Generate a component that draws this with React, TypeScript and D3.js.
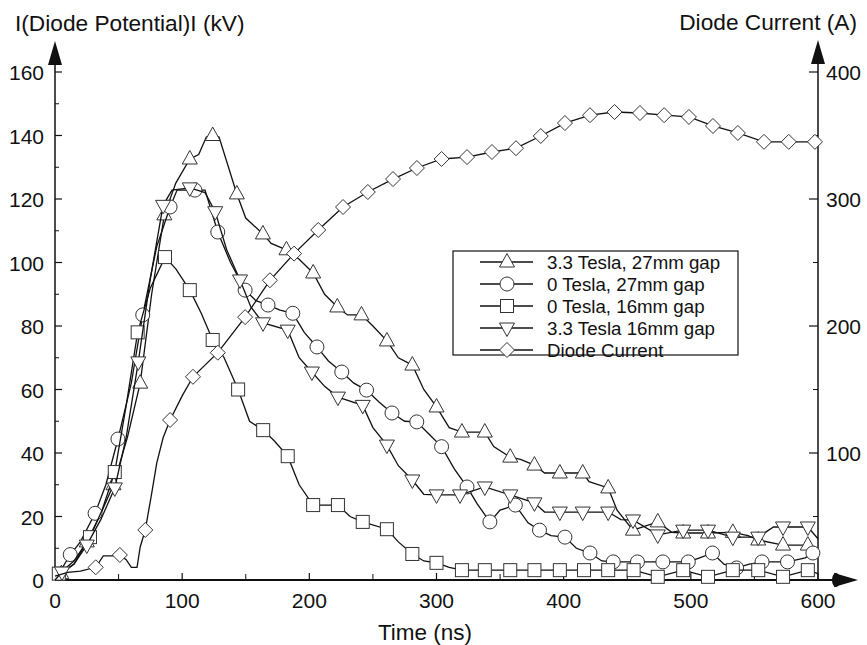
import React from "react";
import * as d3 from "d3";

// ---- data (t in ns, value in kV or A, third item = 1 where a marker is drawn) ----
const timeTicks = [0, 100, 200, 300, 400, 500, 600];
const potentialTicks = [0, 20, 40, 60, 80, 100, 120, 140, 160];
const currentTicks = [100, 200, 300, 400];

const seriesNames = [
  "3.3 Tesla, 27mm gap",
  "0 Tesla, 27mm gap",
  "0 Tesla, 16mm gap",
  "3.3 Tesla 16mm gap",
  "Diode Current",
];

const tesla33gap27: number[][] = [
  [0, 0, 0], [5, 2, 1], [15, 5, 0], [25, 12, 1], [35, 20, 0], [46, 30, 1], [57, 45, 0], [67, 62, 1],
  [76, 90, 0], [86, 115, 1], [95, 125, 0], [106, 132.6, 1], [113, 134, 0], [119, 139.5, 0], [124, 140, 1],
  [129, 139.5, 0], [143, 121.6, 1], [150, 114, 0], [163.5, 109, 1], [170, 106, 0], [182, 104, 1],
  [192, 101, 0], [203, 96.7, 1], [212, 90, 0], [222, 86, 1], [230, 83.5, 0], [241, 83.5, 1], [250, 80, 0],
  [261, 75.3, 1], [270, 70, 0], [281, 67.7, 1], [290, 60, 0], [300, 54.5, 1], [310, 48, 0], [320, 46.6, 1],
  [338, 46.6, 1], [345, 42, 0], [358, 38.7, 1], [366, 38, 0], [377, 36.2, 1], [385, 33.7, 0], [397, 33.7, 1],
  [415, 33.7, 1], [420, 31, 0], [435, 29, 1], [442, 22, 0], [454.5, 15.7, 1], [474, 18.3, 1], [485, 15, 0],
  [494, 14.8, 1], [513.5, 14.8, 1], [533, 15, 1], [545, 14, 0], [553, 12.6, 1], [572.5, 11, 1], [592, 11, 1],
  [600, 10, 0],
];

const tesla0gap27: number[][] = [
  [0, 0, 0], [12, 8, 1], [20, 12, 0], [31.5, 21, 1], [40, 30, 0], [49.5, 44.4, 1], [60, 62, 0], [69, 83.5, 1],
  [80, 105, 0], [90.5, 117.5, 1], [96, 122.8, 0], [110, 122.8, 1], [118, 122.8, 0], [128, 109.6, 1],
  [138, 100, 0], [149.5, 91.3, 1], [158, 88, 0], [167.5, 86.6, 1], [177, 85, 0], [187, 84, 1], [196, 78, 0],
  [206, 73.4, 1], [215, 69, 0], [225.5, 65.5, 1], [235, 62, 0], [245, 59.8, 1], [255, 56, 0], [265, 52.6, 1],
  [275, 50, 0], [284.5, 49.8, 1], [294, 46, 0], [304, 42, 1], [314, 35, 0], [324, 29.3, 1], [332, 24, 0],
  [342, 18.3, 1], [350, 22, 0], [362, 23.6, 1], [372, 18, 0], [381, 15.7, 1], [390, 14, 0], [401, 13.5, 1],
  [410, 10, 0], [420.7, 8.5, 1], [430, 6, 0], [439, 5.7, 1], [458, 5.7, 1], [478, 5.7, 1], [498, 5.7, 1],
  [507, 7, 0], [517, 8.5, 1], [526, 5, 0], [536, 3.8, 1], [546, 5, 0], [556, 5.7, 1], [576, 5.7, 1],
  [590, 7, 0], [596, 8.5, 1],
];

const tesla0gap16: number[][] = [
  [0, 0, 0], [3, 2, 1], [15, 6, 0], [27.5, 13.5, 1], [37, 22, 0], [47, 34, 1], [56, 55, 0], [65, 78, 1],
  [75, 92, 0], [86.5, 101.7, 1], [95, 98, 0], [106, 91.3, 1], [115, 84, 0], [124, 75.6, 1], [133, 70, 0],
  [144, 60, 1], [153, 50, 0], [163.7, 47.2, 1], [172, 44, 0], [183, 39, 1], [192, 30, 0], [203, 23.6, 1],
  [222.5, 23.6, 1], [232, 20, 0], [242, 18.3, 1], [261, 16, 1], [270, 12, 0], [281, 8.2, 1], [290, 6, 0],
  [300, 5.4, 1], [310, 4, 0], [320, 3.1, 1], [338, 3.1, 1], [358, 3.1, 1], [377, 3.1, 1], [397, 3.1, 1],
  [416, 3.1, 1], [435, 3.1, 1], [455, 3.1, 1], [474, 1, 1], [494, 3.1, 1], [513.5, 1, 1], [533, 3.1, 1],
  [553, 3.1, 1], [572.5, 1, 1], [592, 3.1, 1], [600, 2, 0],
];

const tesla33gap16: number[][] = [
  [0, 0, 0], [5.5, 2.5, 1], [15, 5, 0], [25, 11, 1], [36, 19, 0], [47, 29, 1], [56, 45, 0], [65.5, 68.7, 1],
  [75, 95, 0], [85, 118, 1], [92, 122.8, 0], [106, 123.5, 1], [118, 122, 0], [126, 116, 1], [135, 104, 0],
  [145.5, 94.5, 1], [154, 86, 0], [163.6, 81, 1], [183, 78.7, 1], [192, 70, 0], [202, 65.5, 1], [212, 61, 0],
  [222.5, 57.6, 1], [242, 55, 1], [250, 48, 0], [261, 42.5, 1], [270, 36, 0], [281, 31.5, 1], [290, 27, 0],
  [300, 26.8, 1], [318.5, 26.8, 1], [338, 29.3, 1], [358, 26.8, 1], [377, 24.3, 1], [385, 21.4, 0],
  [397, 21.4, 1], [415, 21.4, 1], [435, 21.4, 1], [445, 19, 0], [454.5, 18.9, 1], [474, 14.2, 1],
  [494, 15.7, 1], [513.5, 15.7, 1], [533, 13.5, 1], [553, 13.5, 1], [565, 16.7, 0], [572.5, 16.7, 1],
  [592, 16.7, 1], [600, 13, 0],
];

const diodeCurrent: number[][] = [
  [0, 3, 0], [10, 6, 0], [20, 7, 0], [32, 10, 1], [38, 19, 0], [46, 19, 0], [51, 19.7, 1], [56, 16, 0],
  [60, 10, 0], [64.5, 10, 0], [67, 26, 0], [71, 39.4, 1], [76, 68, 0], [80, 92, 0], [85, 112, 0],
  [90.5, 126, 1], [100, 145, 0], [108.5, 160, 1], [128, 179, 1], [149.5, 207, 1], [169, 236, 1],
  [188, 257, 1], [207, 275.6, 1], [226.5, 293.7, 1], [246, 305.5, 1], [265.8, 315.7, 1], [284.6, 324.4, 1],
  [304, 331.5, 1], [324, 333, 1], [343.6, 337, 1], [362.5, 340, 1], [382, 349.6, 1], [401, 359.8, 1],
  [420.7, 366, 1], [440, 368.5, 1], [460, 367.7, 1], [479, 366, 1], [498.5, 364.6, 1], [517.4, 357.5, 1],
  [537, 352, 1], [557.5, 345, 1], [577, 345, 1], [597.6, 345, 1],
];

// ---- layout ----
const W = 867;
const H = 645;
const X0 = 55;
const X1 = 818;
const Y0 = 580;
const Y1 = 72;
const FONT = "'Liberation Sans', Arial, Helvetica, sans-serif";
const INK = "#111";

const x = d3.scaleLinear().domain([0, 600]).range([X0, X1]);
const yL = d3.scaleLinear().domain([0, 160]).range([Y0, Y1]);
const yR = d3.scaleLinear().domain([0, 400]).range([Y0, Y1]);

type Shape = "up" | "circle" | "square" | "down" | "diamond";

function Marker({ cx, cy, shape }: { cx: number; cy: number; shape: Shape }) {
  const common = { fill: "#fff", stroke: "#333", strokeWidth: 1 };
  if (shape === "circle") return <circle cx={cx} cy={cy} r={7} {...common} />;
  if (shape === "square") return <rect x={cx - 6.5} y={cy - 6.5} width={13} height={13} {...common} />;
  if (shape === "diamond")
    return <path d={`M${cx},${cy - 7.5}L${cx + 7.5},${cy}L${cx},${cy + 7.5}L${cx - 7.5},${cy}Z`} {...common} />;
  if (shape === "up")
    return <path d={`M${cx},${cy - 8.5}L${cx + 7.5},${cy + 5}L${cx - 7.5},${cy + 5}Z`} {...common} />;
  return <path d={`M${cx},${cy + 8.5}L${cx + 7.5},${cy - 5}L${cx - 7.5},${cy - 5}Z`} {...common} />;
}

const seriesDefs: { data: number[][]; shape: Shape; right: boolean }[] = [
  { data: tesla33gap27, shape: "up", right: false },
  { data: tesla0gap27, shape: "circle", right: false },
  { data: tesla0gap16, shape: "square", right: false },
  { data: tesla33gap16, shape: "down", right: false },
  { data: diodeCurrent, shape: "diamond", right: true },
];

export default function App() {
  const leftMinor = d3.range(10, 160, 20);
  const rightMinor = d3.range(50, 400, 100);
  const xMinor = d3.range(50, 600, 100);

  return (
    <svg
      width={W}
      height={H}
      viewBox={`0 0 ${W} ${H}`}
      style={{ position: "absolute", left: 0, top: 0, background: "#fff" }}
      fontFamily={FONT}
    >
      <rect x={0} y={0} width={W} height={H} fill="#fff" />

      {/* axis titles */}
      <text x={15} y={31} fontSize={22.7} fill={INK}>
        I(Diode Potential)I (kV)
      </text>
      <text x={857} y={30} fontSize={22.7} fill={INK} textAnchor="end">
        Diode Current (A)
      </text>
      <text x={425} y={640} fontSize={22.5} fill={INK} textAnchor="middle">
        Time (ns)
      </text>

      {/* left axis */}
      <line x1={X0} y1={Y0} x2={X0} y2={60} stroke={INK} strokeWidth={1.5} />
      <path d={`M${X0},41L${X0 + 7},65L${X0 - 7},65Z`} fill={INK} />
      {potentialTicks.map((t) => (
        <g key={"pl" + t}>
          <line x1={X0} x2={X0 + 7} y1={yL(t)} y2={yL(t)} stroke={INK} strokeWidth={1.2} />
          <text x={44} y={yL(t) + 8} fontSize={21} fill={INK} textAnchor="end">
            {t}
          </text>
        </g>
      ))}
      {leftMinor.map((t) => (
        <line key={"plm" + t} x1={X0} x2={X0 + 4} y1={yL(t)} y2={yL(t)} stroke={INK} strokeWidth={1} />
      ))}

      {/* right axis */}
      <line x1={X1} y1={Y0} x2={X1} y2={60} stroke={INK} strokeWidth={1.5} />
      <path d={`M${X1},40L${X1 + 7},64L${X1 - 7},64Z`} fill={INK} />
      {currentTicks.map((t) => (
        <g key={"cr" + t}>
          <line x1={X1 - 9} x2={X1} y1={yR(t)} y2={yR(t)} stroke={INK} strokeWidth={1.2} />
          <text x={826} y={yR(t) + 8} fontSize={21} fill={INK}>
            {t}
          </text>
        </g>
      ))}
      {rightMinor.map((t) => (
        <line key={"crm" + t} x1={X1 - 5} x2={X1} y1={yR(t)} y2={yR(t)} stroke={INK} strokeWidth={1} />
      ))}

      {/* x axis */}
      <line x1={X0} y1={Y0} x2={840} y2={Y0} stroke={INK} strokeWidth={2} />
      <path d={`M858,${Y0}L834,${Y0 - 7}L834,${Y0 + 7}Z`} fill={INK} />
      <ellipse cx={836} cy={Y0} rx={4} ry={7} fill={INK} />
      {timeTicks.map((t) => (
        <g key={"tx" + t}>
          <line x1={x(t)} x2={x(t)} y1={Y0} y2={Y0 - 7} stroke={INK} strokeWidth={1.2} />
          <text x={x(t)} y={608} fontSize={21} fill={INK} textAnchor="middle">
            {t}
          </text>
        </g>
      ))}
      {xMinor.map((t) => (
        <line key={"txm" + t} x1={x(t)} x2={x(t)} y1={Y0} y2={Y0 - 6} stroke={INK} strokeWidth={1} />
      ))}

      {/* series */}
      {seriesDefs.map((s, i) => {
        const ys = s.right ? yR : yL;
        const line = d3
          .line<number[]>()
          .x((d) => x(d[0]))
          .y((d) => ys(d[1]))
          .curve(d3.curveLinear);
        return (
          <g key={"s" + i}>
            <path d={line(s.data) || ""} fill="none" stroke={INK} strokeWidth={1.3} />
            {s.data
              .filter((d) => d[2] === 1)
              .map((d, j) => (
                <Marker key={j} cx={x(d[0])} cy={ys(d[1])} shape={s.shape} />
              ))}
          </g>
        );
      })}

      {/* legend */}
      <rect x={453} y={251} width={285} height={104} fill="#fff" stroke={INK} strokeWidth={1.2} />
      {seriesNames.map((name, i) => {
        const cy = 262 + i * 22;
        return (
          <g key={"lg" + i}>
            <line x1={480} x2={533} y1={cy} y2={cy} stroke={INK} strokeWidth={1.3} />
            <Marker cx={507} cy={cy} shape={seriesDefs[i].shape} />
            <text x={547} y={cy + 6.5} fontSize={18.7} fill={INK}>
              {name}
            </text>
          </g>
        );
      })}
    </svg>
  );
}
